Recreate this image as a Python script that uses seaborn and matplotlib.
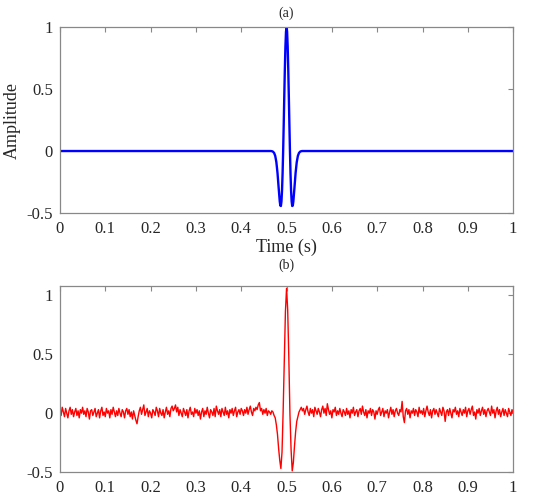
import numpy as np
import matplotlib
matplotlib.use("Agg")
import matplotlib.pyplot as plt
import seaborn as sns

# clean wavelet
clean_time = [0.0, 0.465, 0.4675, 0.47, 0.4725, 0.475, 0.4775, 0.48, 0.4825, 0.485,
              0.48625, 0.4875, 0.48875, 0.49, 0.49125, 0.4925, 0.49375, 0.495, 0.49625,
              0.4975, 0.49875, 0.5, 0.50125, 0.5025, 0.50375, 0.505, 0.50625, 0.5075,
              0.50875, 0.51, 0.51125, 0.5125, 0.51375, 0.515, 0.5175, 0.52, 0.5225,
              0.525, 0.5275, 0.53, 0.5325, 0.535, 1.0]
clean_amp = [0.0, 0.0, -0.001, -0.005, -0.015, -0.039, -0.089, -0.175, -0.293, -0.406,
             -0.440, -0.443, -0.406, -0.319, -0.182, 0.0, 0.216, 0.445, 0.662,
             0.841, 0.959, 1.0, 0.959, 0.841, 0.662, 0.445, 0.216, 0.0,
             -0.182, -0.319, -0.406, -0.443, -0.440, -0.406, -0.293, -0.175, -0.089,
             -0.039, -0.015, -0.005, -0.001, 0.0, 0.0]

# noisy trace, panel (b), sampled every 2.5 ms
noisy_amp = [
    0.03, -0.02, 0.05, 0.01, -0.03, 0.04, 0.00, -0.04, 0.02, 0.05, -0.01, 0.03, -0.03, 0.01, 0.04, -0.02, 0.02, -0.04, 0.03, 0.00,
    0.05, -0.01, 0.02, -0.03, 0.04, 0.01, -0.05, 0.02, 0.03, -0.02, 0.01, 0.04, -0.03, 0.00, 0.03, -0.04, 0.02, 0.05, -0.02, 0.01,
    -0.03, 0.04, 0.00, 0.02, -0.04, 0.03, -0.01, 0.05, 0.01, -0.03, 0.02, -0.02, 0.04, 0.00, -0.03, 0.03, 0.01, -0.04, 0.02, 0.04,
    -0.01, 0.03, -0.03, 0.01, -0.05, 0.02, -0.02, -0.06, -0.09, -0.03, 0.02, 0.05, -0.01, 0.03, 0.07, -0.02, 0.01, 0.04, -0.03, 0.02,
    0.00, -0.04, 0.03, 0.01, -0.02, 0.05, 0.02, -0.03, 0.04, 0.00, -0.02, 0.03, -0.04, 0.01, 0.05, -0.01, 0.02, -0.03, 0.04, 0.06,
    0.02, 0.04, 0.07, 0.01, 0.05, -0.02, 0.03, 0.00, -0.03, 0.04, 0.01, -0.02, 0.03, -0.04, 0.02, 0.05, -0.01, 0.01, -0.03, 0.04,
    0.00, 0.03, -0.02, 0.02, -0.05, 0.01, 0.04, -0.03, 0.02, -0.01, 0.05, 0.00, -0.04, 0.03, 0.01, -0.02, 0.04, -0.03, 0.06, 0.02,
    -0.01, 0.03, -0.03, 0.04, 0.01, -0.02, 0.05, -0.01, 0.02, -0.04, 0.03, 0.00, 0.04, -0.02, 0.02, 0.05, -0.03, 0.01, 0.03, -0.01,
    0.04, 0.02, -0.02, 0.03, 0.00, 0.05, -0.01, 0.03, 0.06, 0.01, -0.02, 0.04, 0.02, 0.05, 0.03, 0.07, 0.09, 0.02, 0.04, -0.01,
    0.03, 0.00, 0.04, -0.02, 0.02, 0.01, -0.01, 0.02,
    0.01, -0.02, -0.04, -0.10, -0.18, -0.30, -0.40, -0.47, -0.33, 0.02, 0.45, 0.86, 1.06,
    0.88, 0.47, -0.01, -0.31, -0.49, -0.42, -0.28, -0.16, -0.07, -0.03, 0.01, 0.03,
    0.05, 0.02, 0.04, -0.01, 0.03, 0.06, 0.01, -0.02, 0.04, 0.00, 0.03, -0.03, 0.05, 0.02, -0.01, 0.04, 0.01, -0.03, 0.03, 0.06,
    0.00, 0.04, -0.02, 0.08, 0.03, -0.01, 0.02, -0.04, 0.03, 0.01, 0.05, -0.02, 0.02, -0.01, 0.04, 0.00, -0.03, 0.03, 0.01, -0.02,
    0.04, -0.01, 0.02, -0.04, 0.03, 0.00, 0.05, -0.02, 0.01, 0.03, -0.03, 0.02, 0.04, -0.01, 0.06, 0.01, -0.02, 0.03, -0.04, 0.02,
    0.00, 0.04, -0.02, 0.03, 0.01, -0.05, 0.02, -0.01, 0.03, 0.05, -0.02, 0.01, 0.04, -0.03, 0.02, 0.00, 0.03, -0.04, 0.01, 0.05,
    -0.01, 0.03, -0.03, 0.02, 0.04, 0.00, -0.02, 0.03, 0.01, 0.10, -0.03, -0.08, 0.02, 0.04, -0.01, 0.03, -0.04, 0.02, 0.00, 0.04,
    -0.02, 0.03, 0.01, -0.03, 0.05, 0.00, 0.02, -0.01, 0.04, -0.03, 0.02, 0.06, 0.01, -0.02, 0.03, -0.04, 0.02, 0.04, -0.01, 0.03,
    0.00, -0.03, 0.04, 0.01, -0.02, 0.05, 0.02, -0.07, 0.01, 0.03, -0.02, 0.04, 0.00, -0.04, 0.03, 0.01, 0.05, -0.01, 0.02, -0.03,
    0.04, 0.01, -0.02, 0.03, 0.00, 0.05, -0.03, 0.02, 0.04, -0.01, 0.03, 0.06, -0.02, 0.01, -0.05, 0.03, 0.00, 0.04, -0.02, 0.02,
    0.05, -0.01, 0.03, -0.03, 0.02, 0.04, 0.01, -0.02, 0.06, 0.00, 0.03, -0.04, 0.02, 0.05, -0.01, 0.03, -0.03, 0.01, 0.04, -0.02,
    0.03, 0.00, -0.03, 0.04, 0.01, -0.02, 0.03, 0.00,
]
noisy_time = np.linspace(0, 1, len(noisy_amp))

xticks = [0, 0.1, 0.2, 0.3, 0.4, 0.5, 0.6, 0.7, 0.8, 0.9, 1]
xticklabels = ["0", "0.1", "0.2", "0.3", "0.4", "0.5", "0.6", "0.7", "0.8", "0.9", "1"]
yticks = [-0.5, 0, 0.5, 1]
yticklabels = ["-0.5", "0", "0.5", "1"]

sns.set_style("white")
plt.rcParams["font.family"] = ["Liberation Serif", "DejaVu Serif"]

fig = plt.figure(figsize=(5.5, 4.99), dpi=100)
ax1 = fig.add_axes([0.109, 0.573, 0.824, 0.373])
ax2 = fig.add_axes([0.109, 0.054, 0.824, 0.373])

sns.lineplot(x=clean_time, y=clean_amp, ax=ax1, color="#0000ff", linewidth=1.7, estimator=None)
sns.lineplot(x=noisy_time, y=noisy_amp, ax=ax2, color="#ff0000", linewidth=1.0, estimator=None)

ax1.set_ylim(-0.5, 1)
ax2.set_ylim(-0.5, 1.08)

for ax in (ax1, ax2):
    ax.set_xlim(0, 1)
    ax.set_xticks(xticks)
    ax.set_xticklabels(xticklabels)
    ax.set_yticks(yticks)
    ax.set_yticklabels(yticklabels)
    ax.tick_params(direction="in", length=3.5, width=0.8, color="#888888",
                   top=True, right=True, labelsize=12, pad=5)
    ax.tick_params(axis="x", pad=6)
    for s in ax.spines.values():
        s.set_color("#888888")
        s.set_linewidth(0.9)

ax1.set_title("(a)", fontsize=10, pad=7)
ax2.set_title("(b)", fontsize=10, pad=12)
ax1.set_xlabel("Time (s)", fontsize=13, labelpad=1)
ax1.set_ylabel("Amplitude", fontsize=13, labelpad=4)

fig.savefig("out.png", dpi=100)
